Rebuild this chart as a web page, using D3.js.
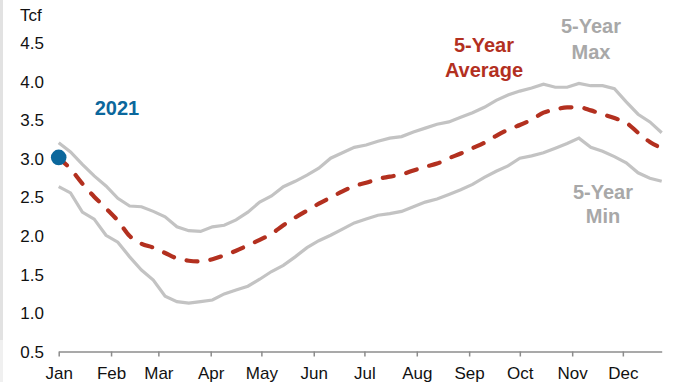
<!DOCTYPE html>
<html>
<head>
<meta charset="utf-8">
<script src="https://cdn.jsdelivr.net/npm/d3@7"></script>
<style>
  body { margin: 0; background: #fff; }
  svg { display: block; font-family: "Liberation Sans", Arial, sans-serif; }
  .axis text { font-size: 17px; fill: #111; }
  .label { font-size: 20px; font-weight: bold; text-anchor: middle; }
</style>
</head>
<body>
<div id="chart"></div>
<script>
// weekly storage values, Tcf (52 weeks starting Jan 1)

var months = ["Jan", "Feb", "Mar", "Apr", "May", "Jun", "Jul", "Aug", "Sep", "Oct", "Nov", "Dec"];

var yTicks = [0.5, 1.0, 1.5, 2.0, 2.5, 3.0, 3.5, 4.0, 4.5];

var maxValues = [3.21, 3.09, 2.93, 2.78, 2.65, 2.49, 2.39, 2.38, 2.32, 2.25,
  2.12, 2.07, 2.06, 2.12, 2.14, 2.21, 2.31, 2.44, 2.52, 2.64,
  2.71, 2.79, 2.88, 3.01, 3.08, 3.15, 3.18, 3.23, 3.27, 3.29,
  3.35, 3.40, 3.45, 3.48, 3.54, 3.60, 3.67, 3.76, 3.83, 3.88,
  3.92, 3.97, 3.93, 3.93, 3.98, 3.95, 3.95, 3.91, 3.74, 3.58,
  3.48, 3.34];

var avgValues = [3.01, 2.87, 2.68, 2.51, 2.36, 2.20, 2.00, 1.90, 1.85, 1.78,
  1.71, 1.68, 1.67, 1.70, 1.75, 1.81, 1.88, 1.95, 2.03, 2.14,
  2.24, 2.33, 2.42, 2.50, 2.58, 2.65, 2.69, 2.74, 2.77, 2.80,
  2.85, 2.90, 2.94, 3.01, 3.07, 3.14, 3.21, 3.30, 3.38, 3.44,
  3.51, 3.60, 3.64, 3.67, 3.67, 3.63, 3.58, 3.53, 3.47, 3.34,
  3.22, 3.14];

var minValues = [2.64, 2.56, 2.31, 2.22, 2.01, 1.92, 1.73, 1.56, 1.43, 1.22,
  1.15, 1.13, 1.15, 1.17, 1.25, 1.30, 1.35, 1.44, 1.54, 1.62,
  1.73, 1.85, 1.94, 2.01, 2.09, 2.17, 2.22, 2.27, 2.29, 2.32,
  2.38, 2.44, 2.48, 2.54, 2.60, 2.67, 2.76, 2.84, 2.91, 3.01,
  3.04, 3.08, 3.14, 3.20, 3.27, 3.15, 3.10, 3.03, 2.95, 2.82,
  2.75, 2.71];

var current = [{ week: 0, value: 3.02 }]; // 2021

var width = 694, height = 382;

var weekDate = function(i) { return new Date(2021, 0, 1 + 7 * i); };

var x = d3.scaleTime()
  .domain([weekDate(0), weekDate(51)])
  .range([58.7, 661.7]);

var y = d3.scaleLinear()
  .domain([0.5, 4.5])
  .range([351.7, 43.3]);

var svg = d3.select("#chart").append("svg")
  .attr("width", width)
  .attr("height", height);

// thin grey strip on the left edge
svg.append("rect").attr("x", 0).attr("y", 0).attr("width", 3).attr("height", 340).attr("fill", "#e2e2e2");
svg.append("rect").attr("x", 0).attr("y", 340).attr("width", 3).attr("height", 42).attr("fill", "#f0f0f0");

// x axis
var monthStarts = months.map(function(m, i) { return new Date(2021, i, 1); });

var xAxis = svg.append("g")
  .attr("class", "axis")
  .attr("transform", "translate(0,351.5)")
  .call(d3.axisBottom(x)
    .tickValues(monthStarts)
    .tickFormat(function(d, i) { return months[i]; })
    .tickSize(5)
    .tickSizeOuter(0)
    .tickPadding(6));
xAxis.select(".domain").attr("stroke", "#8c8c8c").attr("stroke-width", 1.5);
xAxis.selectAll(".tick line").attr("stroke", "#8c8c8c").attr("stroke-width", 1.5);
xAxis.selectAll(".tick text").attr("dy", "0.95em");

// y axis, labels only
var yAxis = svg.append("g")
  .attr("class", "axis")
  .attr("transform", "translate(47,0)")
  .call(d3.axisLeft(y)
    .tickValues(yTicks)
    .tickFormat(d3.format(".1f"))
    .tickSize(0)
    .tickPadding(3));
yAxis.select(".domain").remove();

svg.append("text")
  .attr("x", 20)
  .attr("y", 21)
  .attr("font-size", 17)
  .attr("fill", "#111")
  .text("Tcf");

// lines
var line = d3.line()
  .x(function(d, i) { return x(weekDate(i)); })
  .y(function(d) { return y(d); });

svg.append("path")
  .datum(maxValues)
  .attr("d", line)
  .attr("fill", "none")
  .attr("stroke", "#c3c3c3")
  .attr("stroke-width", 3.2);

svg.append("path")
  .datum(minValues)
  .attr("d", line)
  .attr("fill", "none")
  .attr("stroke", "#c3c3c3")
  .attr("stroke-width", 3.2);

svg.append("path")
  .datum(avgValues)
  .attr("d", line.curve(d3.curveMonotoneX))
  .attr("fill", "none")
  .attr("stroke", "#b3301f")
  .attr("stroke-width", 4.2)
  .attr("stroke-linecap", "round")
  .attr("stroke-dasharray", "11 13");

// 2021 point
svg.selectAll(".dot")
  .data(current)
  .enter().append("circle")
  .attr("class", "dot")
  .attr("cx", function(d) { return x(weekDate(d.week)); })
  .attr("cy", function(d) { return y(d.value); })
  .attr("r", 7.8)
  .attr("fill", "#0b679c");

// labels
svg.append("text").attr("class", "label").attr("x", 117).attr("y", 115)
  .attr("fill", "#0b679c").text("2021");

var avgLabel = svg.append("text").attr("class", "label").attr("fill", "#b3301f");
avgLabel.append("tspan").attr("x", 484).attr("y", 52).text("5-Year");
avgLabel.append("tspan").attr("x", 484).attr("y", 77).text("Average");

var maxLabel = svg.append("text").attr("class", "label").attr("fill", "#a8a8a8");
maxLabel.append("tspan").attr("x", 591).attr("y", 33).text("5-Year");
maxLabel.append("tspan").attr("x", 591).attr("y", 59).text("Max");

var minLabel = svg.append("text").attr("class", "label").attr("fill", "#a8a8a8");
minLabel.append("tspan").attr("x", 603).attr("y", 199).text("5-Year");
minLabel.append("tspan").attr("x", 603).attr("y", 223).text("Min");
</script>
</body>
</html>
